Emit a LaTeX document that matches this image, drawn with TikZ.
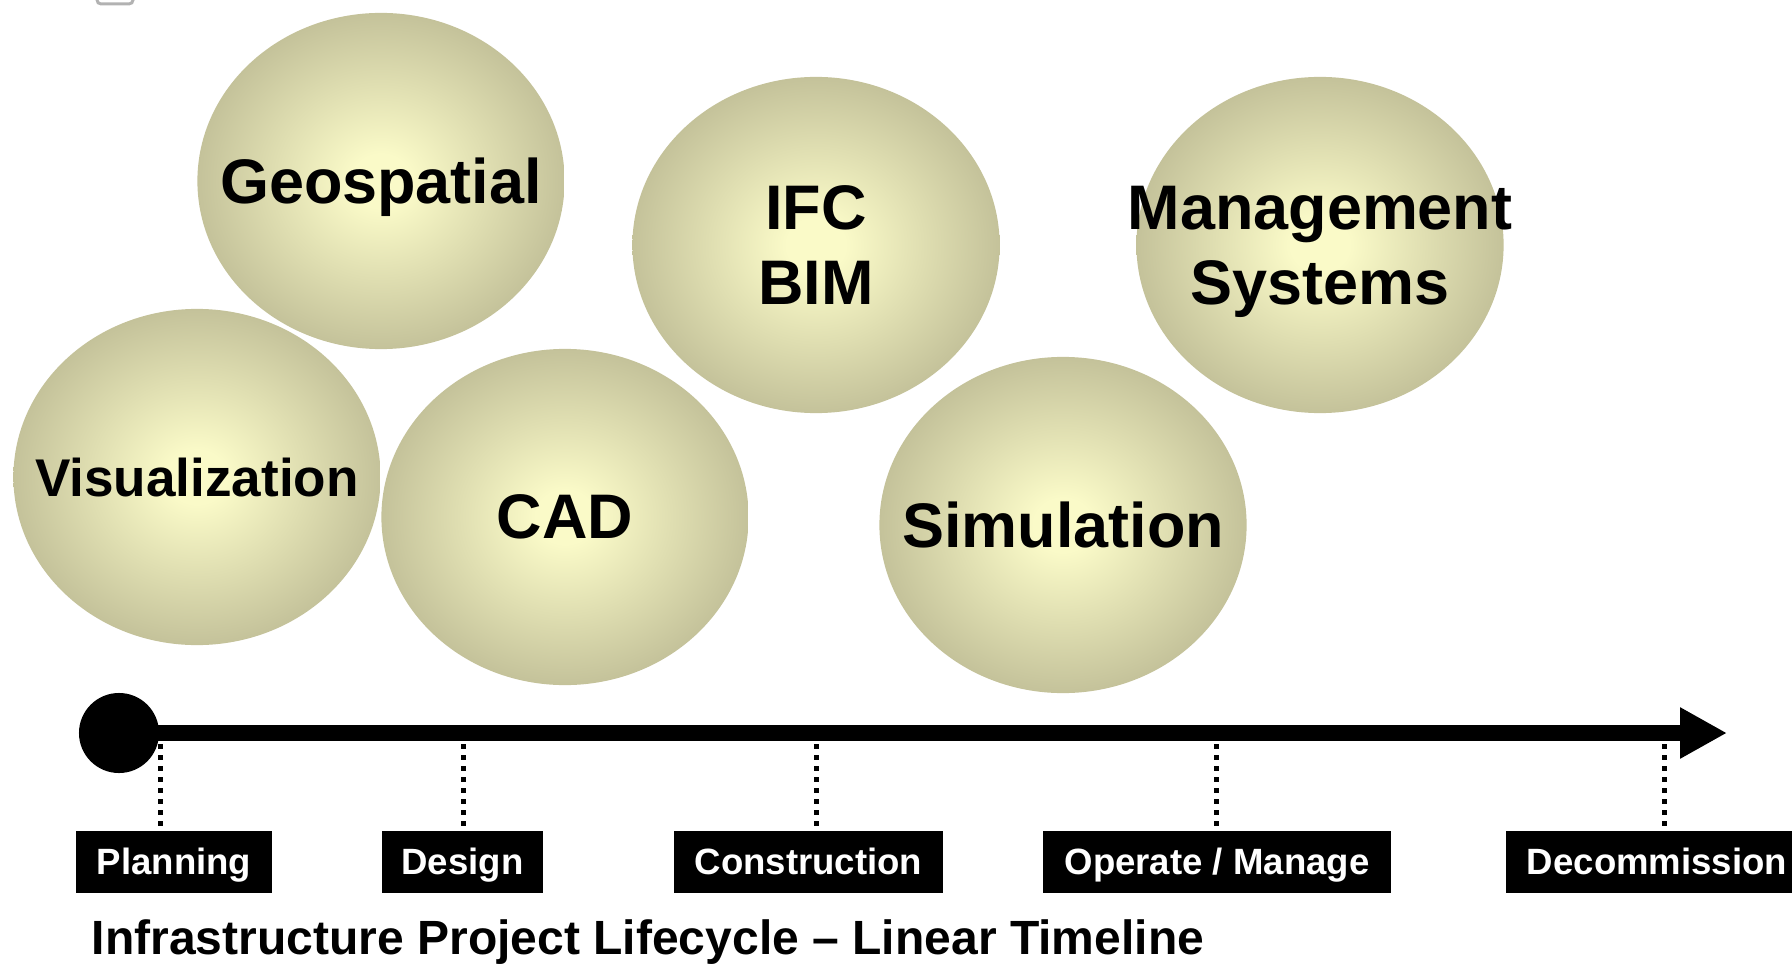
\documentclass[tikz,border=0pt]{standalone}
\usepackage{fontspec}
\setmainfont{Liberation Sans}
\usepackage{tikz}
\usetikzlibrary{shapes.geometric,arrows.meta,positioning}
\definecolor{ballin}{RGB}{250,250,200}
\definecolor{ballout}{RGB}{196,194,154}
\pgfdeclareradialshading{ballshade}{\pgfpoint{0bp}{0bp}}{color(0bp)=(ballin); color(4bp)=(ballin); color(25bp)=(ballout); color(50bp)=(ballout)}

\begin{document}
\begin{tikzpicture}[x=0.01cm,y=-0.01cm,
	ball/.style={ellipse,shading=ballshade,minimum width=3.67cm,minimum height=3.36cm,inner sep=0pt},
	balltext/.style={align=center,inner sep=0pt,text depth=0pt,font=\fontsize{17.9}{21.3}\selectfont\bfseries},
	phase/.style={fill=black,text=white,minimum height=0.62cm,inner sep=0pt,text height=0.30cm,text depth=0.06cm,font=\fontsize{10.4}{12}\selectfont\bfseries},
	tick/.style={line width=0.05cm,dash pattern=on 0.05cm off 0.06cm}]
		\useasboundingbox (0,0) rectangle (1792,964);
		\draw[gray!60,line width=0.03cm,rounded corners=0.04cm] (97,-20) rectangle (133,4);
		\node[ball,label={[balltext]center:Geospatial}] (geo) at (381,181) {};
		\node[ball,label={[balltext,font=\fontsize{15.1}{18}\selectfont\bfseries]center:Visualization}] (vis) at (197,477) {};
		\node[ball,label={[balltext]center:CAD}] (cad) at (565,517) {};
		\node[ball,label={[balltext]center:IFC\\BIM}] (bim) at (816,245) {};
		\node[ball,label={[balltext]center:Simulation}] (sim) at (1063,525) {};
		\node[ball,label={[balltext]center:Management\\Systems}] (mgmt) at (1320,245) {};
		\node[phase,minimum width=1.96cm] (plan) at (174,862) {Planning};
		\node[phase,minimum width=1.61cm] (design) at (462.5,862) {Design};
		\node[phase,minimum width=2.69cm] (constr) at (808.5,862) {Construction};
		\node[phase,minimum width=3.48cm] (operate) at (1217,862) {Operate / Manage};
		\node[phase,minimum width=3.02cm] (decom) at (1657,862) {Decommission};
		\coordinate (t1) at (160,733);
		\coordinate (t2) at (463,733);
		\coordinate (t3) at (816,733);
		\coordinate (t4) at (1216,733);
		\coordinate (t5) at (1664,733);
		\draw[tick] (t1) -- (t1 |- plan.north);
		\draw[tick] (t2) -- (t2 |- design.north);
		\draw[tick] (t3) -- (t3 |- constr.north);
		\draw[tick] (t4) -- (t4 |- operate.north);
		\draw[tick] (t5) -- (t5 |- decom.north);
		\node[circle,fill=black,minimum size=0.8cm,inner sep=0pt] (start) at (119,733) {};
		\coordinate (end) at (1727,733);
		\draw[line width=0.16cm,-{Triangle[length=0.47cm,width=0.48cm]}] (start.center) -- (end);
		\node[anchor=base west,inner sep=0pt,font=\fontsize{13.66}{16}\selectfont\bfseries] (title) at (91,954) {Infrastructure Project Lifecycle – Linear Timeline};
	\end{tikzpicture}
\end{document}
